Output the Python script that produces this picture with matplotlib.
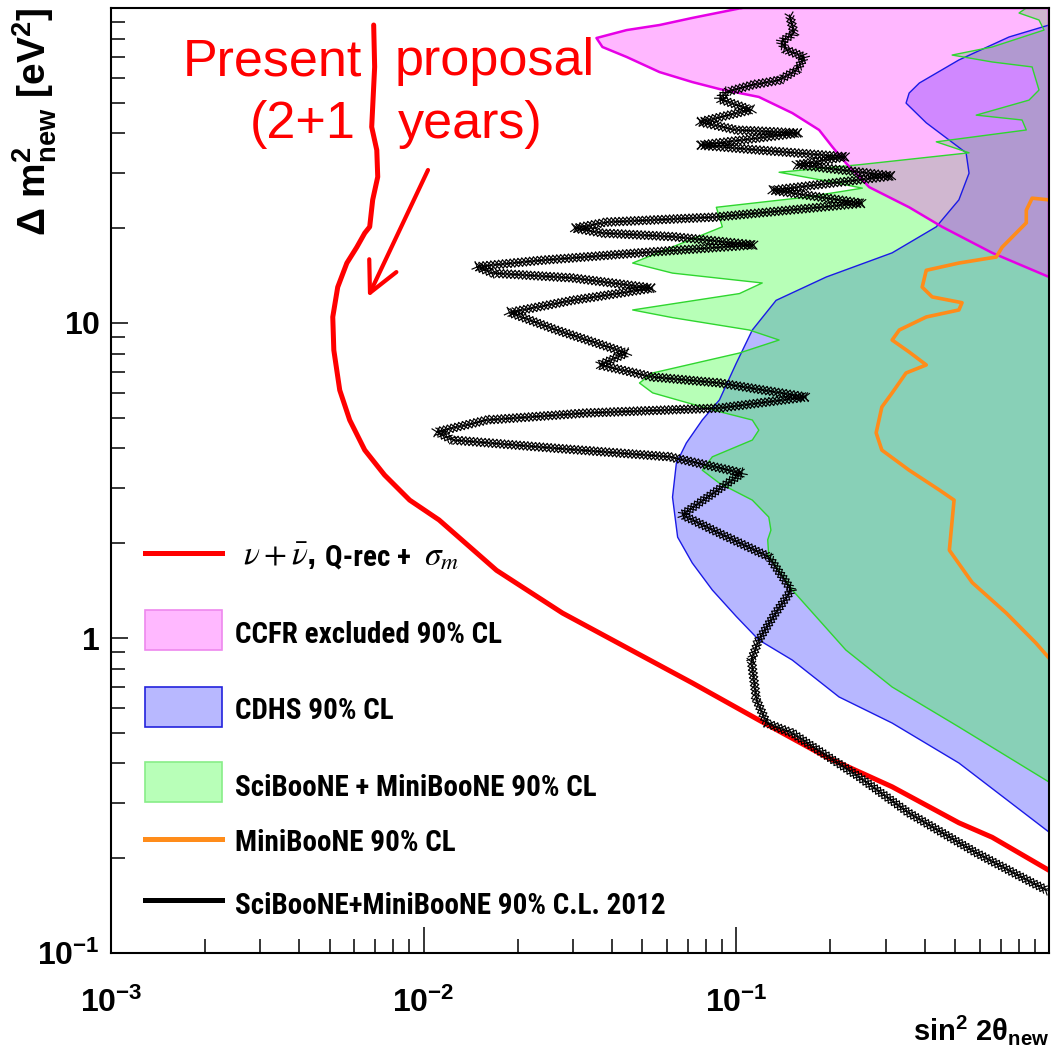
import matplotlib
matplotlib.use("Agg")
import matplotlib.pyplot as plt
import numpy as np
from matplotlib import patheffects as pe
from matplotlib import font_manager
from matplotlib.font_manager import FontProperties
from matplotlib.lines import Line2D
from matplotlib.patches import Rectangle, FancyArrowPatch
from matplotlib.ticker import FixedLocator, FixedFormatter, LogLocator, NullFormatter

# ---- data (sin^2 2theta, dm^2 in eV^2) ----
# present proposal, nu + nubar, Q-rec + sigma_m (red)
prop_s2 = [6.92e-3, 6.97e-3, 6.82e-3, 7.08e-3, 7.13e-3, 6.87e-3, 6.72e-3, 6.48e-3,
           6.11e-3, 5.68e-3, 5.31e-3, 5.12e-3, 5.16e-3, 5.39e-3, 5.80e-3, 6.48e-3,
           7.50e-3, 9.02e-3, 1.12e-2, 1.71e-2, 2.78e-2, 4.80e-2, 7.23e-2, 0.118,
           0.194, 0.315, 0.515, 0.658, 1.0]
prop_dm2 = [88.3, 65.0, 41.9, 35.4, 29.1, 24.6, 20.2, 19.3, 17.4, 15.5, 13.0, 10.45,
            8.20, 6.12, 4.92, 3.95, 3.29, 2.74, 2.37, 1.64, 1.20, 0.896, 0.720, 0.549,
            0.419, 0.337, 0.259, 0.233, 0.183]

# SciBooNE+MiniBooNE 90% C.L. 2012 (black, x markers)
sb12_s2 = [0.148, 0.153, 0.139, 0.1445, 0.165, 0.156, 0.137, 0.1125, 0.0929, 0.0883,
           0.1117, 0.0762, 0.100, 0.159, 0.1045, 0.0762, 0.118, 0.224, 0.156, 0.315,
           0.130, 0.253, 0.0863, 0.0385, 0.0303, 0.0373, 0.0625, 0.114, 0.0490, 0.0235,
           0.01476, 0.0166, 0.0299, 0.0540, 0.0299, 0.0188, 0.0266, 0.0446, 0.0365, 0.0540,
           0.0883, 0.1675, 0.0883, 0.0332, 0.0159, 0.0110, 0.0124, 0.0258, 0.0611, 0.1045,
           0.0671, 0.0883, 0.127, 0.150, 0.132, 0.118, 0.1117, 0.116, 0.125, 0.151,
           0.247, 0.357, 0.585, 0.846, 0.986]
sb12_dm2 = [95.0, 83.3, 78.0, 73.6, 69.9, 63.5, 59.0, 57.0, 54.1, 51.4,
            47.5, 43.5, 41.0, 40.1, 38.1, 36.7, 35.4, 33.7, 31.8, 29.3,
            26.4, 24.0, 21.7, 20.9, 20.0, 19.3, 18.8, 17.7, 16.7, 15.8,
            15.1, 14.4, 13.9, 12.9, 11.8, 10.8, 9.5, 8.03, 7.36, 6.74,
            6.45, 5.82, 5.37, 5.18, 4.92, 4.51, 4.25, 4.01, 3.76, 3.34,
            2.46, 2.15, 1.81, 1.42, 1.18, 0.986, 0.851, 0.636, 0.537, 0.499,
            0.362, 0.278, 0.208, 0.171, 0.158]

# CCFR excluded 90% CL (pink)
ccfr_s2 = [0.104, 0.0723, 0.0568, 0.0446, 0.0357, 0.0373, 0.0446, 0.0568, 0.0723, 0.0883,
           0.118, 0.151, 0.184, 0.203, 0.224, 0.266, 0.357, 0.455, 0.658, 1.0]
ccfr_dm2 = [100, 93.0, 88.3, 85.1, 80.3, 75.2, 69.9, 62.6, 58.2, 55.3,
            52.2, 46.4, 41.0, 36.2, 32.2, 27.0, 23.3, 20.2, 16.7, 14.0]

# CDHS 90% CL (blue)
cdhs_s2 = [1.0, 0.745, 0.515, 0.385, 0.357, 0.349, 0.405, 0.543, 0.555, 0.515, 0.436,
           0.315, 0.194, 0.134, 0.1125, 0.100, 0.0883, 0.0778, 0.0692, 0.0643, 0.0625,
           0.0649, 0.0723, 0.0838, 0.100, 0.118, 0.151, 0.213, 0.315, 0.515, 1.0]
cdhs_dm2 = [88.3, 80.9, 68.4, 57.8, 53.7, 49.9, 43.2, 34.7, 29.9, 24.6, 20.2,
            16.7, 14.0, 11.8, 9.5, 7.46, 5.70, 4.92, 4.16, 3.59, 2.80,
            2.09, 1.73, 1.42, 1.17, 0.986, 0.851, 0.650, 0.537, 0.401, 0.242]

# SciBooNE + MiniBooNE 90% CL (green)
sbmb_s2 = [0.846, 0.802, 0.929, 0.964, 0.658, 0.490, 0.658, 0.883, 0.929, 0.863,
           0.585, 0.820, 0.846, 0.436, 0.555, 0.247, 0.137, 0.188, 0.253, 0.1675,
           0.0863, 0.0902, 0.0466, 0.0625, 0.121, 0.1023, 0.0466, 0.0625, 0.110, 0.137,
           0.1023, 0.0540, 0.0490, 0.0540, 0.0838, 0.1125, 0.118, 0.1125, 0.0838, 0.0778,
           0.0883, 0.1125, 0.127, 0.129, 0.126, 0.127, 0.151, 0.184, 0.224, 0.315,
           0.515, 1.0]
sbmb_dm2 = [100, 96.4, 91.6, 85.1, 75.2, 70.9, 67.4, 65.0, 54.9, 51.0,
            45.7, 44.1, 41.0, 37.6, 34.7, 31.8, 30.1, 28.4, 26.8, 25.1,
            23.3, 20.2, 15.5, 14.4, 13.4, 12.4, 11.0, 10.4, 9.5, 8.83,
            8.03, 6.94, 6.45, 6.0, 5.30, 4.92, 4.57, 4.25, 3.76, 3.41,
            3.10, 2.74, 2.42, 2.20, 2.05, 1.81, 1.42, 1.14, 0.916, 0.699,
            0.522, 0.349]

# MiniBooNE 90% CL (orange)
mb_s2 = [1.0, 0.883, 0.846, 0.846, 0.708, 0.678, 0.515, 0.405, 0.393, 0.423,
         0.527, 0.515, 0.405, 0.332, 0.315, 0.357, 0.405, 0.349, 0.315, 0.292,
         0.280, 0.292, 0.357, 0.446, 0.497, 0.480, 0.568, 0.730, 0.908, 1.0]
mb_dm2 = [24.6, 24.9, 22.8, 20.8, 17.4, 16.2, 15.5, 14.7, 13.0, 12.1,
          11.6, 11.0, 10.45, 9.5, 8.83, 8.09, 7.36, 6.94, 6.0, 5.41,
          4.48, 3.95, 3.41, 2.95, 2.74, 1.90, 1.50, 1.20, 0.964, 0.864]

x_major = [1e-3, 1e-2, 1e-1]
x_labels = [r'$\mathbf{10^{-3}}$', r'$\mathbf{10^{-2}}$', r'$\mathbf{10^{-1}}$']
y_major = [0.1, 1, 10]
y_labels = [r'$\mathbf{10^{-1}}$', r'$\mathbf{1}$', r'$\mathbf{10}$']
XMIN, XMAX = 1e-3, 1.0
YMIN, YMAX = 0.1, 100.0

legend_labels = ['CCFR excluded 90% CL',
                 'CDHS 90% CL',
                 'SciBooNE + MiniBooNE 90% CL',
                 'MiniBooNE 90% CL',
                 'SciBooNE+MiniBooNE 90% C.L. 2012']

# ---- fonts ----
plt.rcParams['font.family'] = ['Liberation Sans', 'DejaVu Sans']
plt.rcParams['mathtext.fontset'] = 'custom'
plt.rcParams['mathtext.rm'] = 'Liberation Sans'
plt.rcParams['mathtext.bf'] = 'Liberation Sans:bold'
plt.rcParams['mathtext.it'] = 'Liberation Sans:italic'
plt.rcParams['mathtext.sf'] = 'Liberation Sans'


def is_bold(f):
    w = f.weight
    return (w in ('bold', 'semibold', 'demibold')) or (isinstance(w, int) and w >= 600)


# the legend text in the original is a condensed bold face; use one if installed
leg_prop = None
for pref in ('Liberation Sans Narrow', 'Roboto Condensed', 'DejaVu Sans',
             'Open Sans Condensed', 'Noto Sans', 'Open Sans'):
    for f in font_manager.fontManager.ttflist:
        narrow = ('Narrow' in f.name or 'Condensed' in f.name
                  or 'condensed' in str(f.stretch) or 'Condensed' in f.fname)
        if f.name.startswith(pref.split(' Condensed')[0]) and narrow and is_bold(f) \
                and 'Italic' not in f.fname and f.style == 'normal':
            leg_prop = FontProperties(fname=f.fname, size=21)
            break
    if leg_prop is not None:
        break
if leg_prop is None:
    leg_prop = FontProperties(family='Liberation Sans', weight='bold', size=17.5)

W, H = 1058, 1056


def fp(x, y):
    # pixel position (from top-left) -> figure fraction
    return x / W, 1 - y / H


fig = plt.figure(figsize=(W / 100, H / 100), dpi=100)
ax = fig.add_axes([111 / W, 1 - 953 / H, (1049 - 111) / W, (953 - 8) / H])
ax.set_xscale('log')
ax.set_yscale('log')
ax.set_xlim(XMIN, XMAX)
ax.set_ylim(YMIN, YMAX)

# filled exclusion regions
blue_face, green_face, pink_face = '#3333ff', '#33ff33', '#ff33ff'
ax.fill(cdhs_s2, cdhs_dm2, color=blue_face, alpha=0.35, lw=0, zorder=1)
ax.fill(sbmb_s2 + [XMAX], sbmb_dm2 + [YMAX], color=green_face, alpha=0.35, lw=0, zorder=2)
ax.fill(ccfr_s2 + [XMAX], ccfr_dm2 + [YMAX], color=pink_face, alpha=0.35, lw=0, zorder=3)

ax.plot(cdhs_s2, cdhs_dm2, color='#1a1ae6', lw=1.0, zorder=4)
ax.plot(sbmb_s2, sbmb_dm2, color='#2fd62f', lw=1.0, zorder=4)
ax.plot(ccfr_s2 + [XMAX, ccfr_s2[0]], ccfr_dm2 + [YMAX, ccfr_dm2[0]],
        color='#e600e6', lw=1.8, zorder=4)

ax.plot(mb_s2, mb_dm2, color='#ff8c1a', lw=2.6, zorder=5)
ax.plot(prop_s2, prop_dm2, color='#ff0000', lw=3.6, zorder=6, solid_capstyle='round')

xmarks = [pe.TickedStroke(angle=a, spacing=2.8, length=1.45, linewidth=0.85,
                          foreground='black') for a in (45, -45, 135, -135)]
ax.plot(sb12_s2, sb12_dm2, color='black', lw=0.9, zorder=7,
        path_effects=xmarks + [pe.Normal()])

# axes styling
for sp in ax.spines.values():
    sp.set_linewidth(1.5)
    sp.set_zorder(10)
ax.xaxis.set_major_locator(FixedLocator(x_major))
ax.xaxis.set_major_formatter(FixedFormatter(x_labels))
ax.yaxis.set_major_locator(FixedLocator(y_major))
ax.yaxis.set_major_formatter(FixedFormatter(y_labels))
ax.xaxis.set_minor_locator(LogLocator(base=10, subs=np.arange(2, 10)))
ax.yaxis.set_minor_locator(LogLocator(base=10, subs=np.arange(2, 10)))
ax.xaxis.set_minor_formatter(NullFormatter())
ax.yaxis.set_minor_formatter(NullFormatter())
ax.tick_params(which='both', direction='in', top=False, right=False, width=1.1)
ax.tick_params(axis='x', which='major', length=19, pad=25, labelsize=23)
ax.tick_params(axis='x', which='minor', length=10)
ax.tick_params(axis='y', which='major', length=12, pad=8, labelsize=23)
ax.tick_params(axis='y', which='minor', length=10)

# axis titles
fig.text(*fp(1049, 1040), r'$\mathbf{sin^{2}\ 2\theta_{new}}$', fontsize=21,
         ha='right', va='baseline')
fig.text(*fp(35, 8), r'$\mathbf{\Delta\ m^{2}_{new}\ [eV^{2}]}$', fontsize=28,
         rotation=90, ha='center', va='top')

# annotation
for txt, x, y in [('Present', 183, 75), ('proposal', 395, 75),
                  ('(2+1', 250, 138), ('years)', 398, 138)]:
    fig.text(*fp(x, y), txt, color='red', fontsize=37.5, ha='left', va='baseline')
fig.add_artist(FancyArrowPatch(fp(428, 170), fp(368, 297), transform=fig.transFigure,
                               arrowstyle='->,head_length=0.9,head_width=0.45',
                               mutation_scale=24, color='red', lw=3,
                               shrinkA=0, shrinkB=0))

# legend drawn by hand
kx0, kx1 = 145, 222
fig.add_artist(Line2D([fp(kx0, 0)[0], fp(kx1, 0)[0]], [fp(0, 553)[1]] * 2,
                      transform=fig.transFigure, color='red', lw=3.6))
for yc, fc, ec in [(630, '#ffb8ff', '#ee88ee'), (707, '#b8b8ff', '#2222dd'),
                   (782, '#b8ffb8', '#88ee88')]:
    fig.add_artist(Rectangle(fp(kx0, yc + 20), (kx1 - kx0) / W, 40 / H,
                             transform=fig.transFigure, facecolor=fc, edgecolor=ec, lw=1.2))
fig.add_artist(Line2D([fp(kx0, 0)[0], fp(kx1, 0)[0]], [fp(0, 839)[1]] * 2,
                      transform=fig.transFigure, color='#ff8c1a', lw=3.6))
fig.add_artist(Line2D([fp(kx0, 0)[0], fp(kx1, 0)[0]], [fp(0, 900)[1]] * 2,
                      transform=fig.transFigure, color='black', lw=3.6))

# first legend entry: greek symbols in a serif italic, the rest in bold sans
fig.text(*fp(243, 565), r'$\nu+\bar{\nu}$,', fontsize=24, math_fontfamily='stix',
         fontweight='bold', ha='left', va='baseline')
fig.text(*fp(325, 565), 'Q-rec +', fontproperties=leg_prop, ha='left', va='baseline')
fig.text(*fp(424, 565), r'$\sigma_m$', fontsize=24, math_fontfamily='stix',
         ha='left', va='baseline')
for lab, yb in zip(legend_labels, [643, 719, 796, 851, 914]):
    fig.text(*fp(235, yb), lab, fontproperties=leg_prop, ha='left', va='baseline')

fig.savefig('out.png', dpi=100)
